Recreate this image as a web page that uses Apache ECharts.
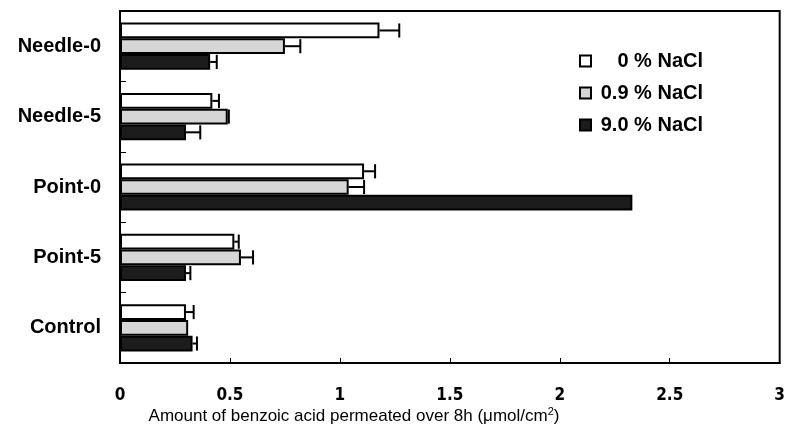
<!DOCTYPE html>
<html>
<head>
<meta charset="utf-8">
<script src="https://cdn.jsdelivr.net/npm/echarts@6/dist/echarts.min.js"></script>
<style>
  html, body { margin: 0; padding: 0; background: #fff; }
  #chart { width: 788px; height: 447px; }
</style>
</head>
<body>
<div id="chart"></div>
<script>
// Groups (top to bottom) and NaCl conditions
const categories = ['Needle-0', 'Needle-5', 'Point-0', 'Point-5', 'Control'];
const seriesNames = ['0 % NaCl', '0.9 % NaCl', '9.0 % NaCl'];

// Mean permeated amount (µmol/cm²)
const nacl0 = [1.18, 0.42, 1.11, 0.52, 0.30];
const nacl09 = [0.75, 0.49, 1.04, 0.55, 0.31];
const nacl90 = [0.41, 0.30, 2.33, 0.30, 0.33];

// Standard deviations (drawn as one-sided error bars)
const err0 = [0.09, 0.03, 0.05, 0.02, 0.035];
const err09 = [0.07, 0.005, 0.07, 0.055, 0.0];
const err90 = [0.03, 0.065, 0.0, 0.02, 0.02];

// X-axis ticks
const xTicks = [0, 0.5, 1, 1.5, 2, 2.5, 3];

const fills = ['#ffffff', '#d6d6d6', '#1c1c1c'];
const CAT_GAP = 0.33;
const labelFont = "'Liberation Sans', Arial, sans-serif";
const narrowFont = "'Liberation Sans Narrow', 'DejaVu Sans Condensed', 'Liberation Sans', sans-serif";

const chart = echarts.init(document.getElementById('chart'), null, { renderer: 'canvas' });

function barSeries(idx, values) {
  return {
    name: seriesNames[idx],
    type: 'bar',
    data: values,
    barGap: '0%',
    barCategoryGap: (CAT_GAP * 100) + '%',
    itemStyle: { color: fills[idx], borderColor: '#000', borderWidth: 2 },
    z: 2
  };
}

function errorSeries(idx, values, errs) {
  return {
    type: 'custom',
    name: seriesNames[idx] + ' SD',
    data: values.map((v, k) => [k, v, errs[k]]),
    encode: { x: 1, y: 0 },
    z: 3,
    silent: true,
    renderItem: function (params, api) {
      const cat = api.value(0);
      const v = api.value(1);
      const e = api.value(2);
      if (!e) return null;
      const band = api.size([0, 1])[1];
      const bw = band * (1 - CAT_GAP) / 3;
      const off = -1.5 * bw + bw * (idx + 0.5);
      const p0 = api.coord([v, cat]);
      const p1 = api.coord([v + e, cat]);
      const y = p0[1] + off;
      const h = bw * 0.45;
      const st = { stroke: '#000', lineWidth: 2 };
      return {
        type: 'group',
        children: [
          { type: 'line', shape: { x1: p0[0], y1: y, x2: p1[0], y2: y }, style: st },
          { type: 'line', shape: { x1: p1[0], y1: y - h, x2: p1[0], y2: y + h }, style: st }
        ]
      };
    }
  };
}

const option = {
  animation: false,
  backgroundColor: '#fff',
  grid: {
    left: 120, right: 6, top: 11, bottom: 84,
    show: true, borderColor: '#000', borderWidth: 2, backgroundColor: 'transparent'
  },
  xAxis: {
    type: 'value',
    min: xTicks[0],
    max: xTicks[xTicks.length - 1],
    interval: 0.5,
    splitLine: { show: false },
    axisLine: { show: true, lineStyle: { color: '#000', width: 2 } },
    axisTick: { show: true, inside: true, length: 5, lineStyle: { color: '#000', width: 1 } },
    axisLabel: {
      margin: 24,
      color: '#000',
      fontSize: 17,
      fontWeight: 'bold',
      fontFamily: narrowFont,
      formatter: v => String(v)
    }
  },
  yAxis: {
    type: 'category',
    data: categories,
    inverse: true,
    axisLine: { show: true, lineStyle: { color: '#000', width: 2 } },
    axisTick: { show: true, inside: true, length: 6, lineStyle: { color: '#000', width: 1 } },
    axisLabel: {
      margin: 19,
      color: '#000',
      fontSize: 20,
      fontWeight: 'bold',
      fontFamily: labelFont
    }
  },
  legend: {
    data: seriesNames,
    orient: 'vertical',
    left: 579,
    top: 51,
    padding: 0,
    itemWidth: 11,
    itemHeight: 11,
    itemGap: 12,
    icon: 'rect',
    formatter: n => '{t|' + n + '}',
    textStyle: {
      rich: {
        t: {
          width: 107, align: 'right', fontSize: 20, lineHeight: 22,
          fontWeight: 'bold', fontFamily: labelFont, color: '#000'
        }
      }
    }
  },
  graphic: [{
    type: 'text',
    x: 354,
    y: 416,
    style: {
      text: 'Amount of benzoic acid permeated over 8h (μmol/cm{s|2})',
      align: 'center',
      verticalAlign: 'middle',
      fontSize: 17,
      fontFamily: labelFont,
      fill: '#000',
      lineHeight: 20,
      rich: {
        s: { fontSize: 11, verticalAlign: 'top', lineHeight: 20, fontFamily: labelFont, fill: '#000' }
      }
    }
  }],
  series: [
    barSeries(0, nacl0),
    barSeries(1, nacl09),
    barSeries(2, nacl90),
    errorSeries(0, nacl0, err0),
    errorSeries(1, nacl09, err09),
    errorSeries(2, nacl90, err90)
  ]
};

chart.setOption(option);
</script>
</body>
</html>
